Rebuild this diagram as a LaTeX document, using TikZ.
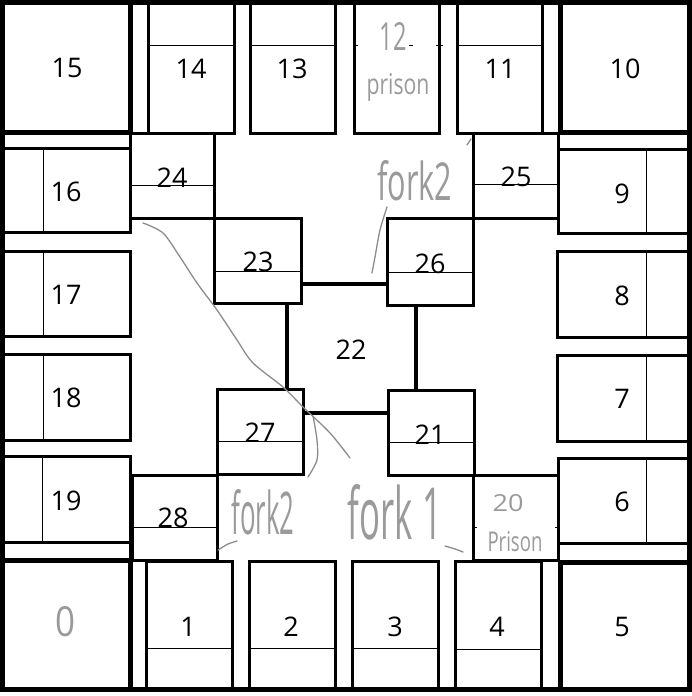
\documentclass[tikz,border=0pt]{standalone}
\usepackage{fontspec}
\setmainfont{Open Sans}
\definecolor{hgray}{HTML}{8C8C8C}
\definecolor{tgray}{HTML}{9A9A9A}
\begin{document}
\begin{tikzpicture}[x=1pt,y=-1pt,
  cell/.style={draw=black, fill=white, line width=3pt},
  corner/.style={draw=black, fill=white, line width=5pt},
  frame/.style={draw=black, line width=5pt},
  centre/.style={draw=black, line width=4.5pt},
  thin/.style={draw=black, line width=1pt},
  num/.style={inner sep=0pt, font=\fontsize{27}{30}\selectfont},
  hand/.style={inner sep=0pt, text=tgray},
  stroke/.style={draw=hgray, line width=1.3pt, line cap=round, line join=round}]
\useasboundingbox (0,0) rectangle (692,696);
% centre square 22
\draw[centre] (287,284) rectangle (416,413);
% top row
\draw[cell] (148,2.5) rectangle (234,133);
\draw[cell] (250,2.5) rectangle (335,133);
\draw[cell] (354,2.5) rectangle (439,133);
\draw[cell] (457,2.5) rectangle (542,133);
\draw[cell] (131,133) -- (148,133);
\draw[cell] (542,133) -- (560,133);
% left column
\draw[cell] (2.5,148) rectangle (130,232);
\draw[cell] (2.5,251) rectangle (130,336);
\draw[cell] (2.5,354) rectangle (130,440);
\draw[cell] (2.5,456) rectangle (130,542);
\draw[cell] (130,132) -- (130,148);
\draw[cell] (130,542) -- (130,560);
% right column
\draw[cell] (558,149) rectangle (689,233);
\draw[cell] (557,251) rectangle (689,337);
\draw[cell] (557,355) rectangle (689,441);
\draw[cell] (558,458) rectangle (689,543);
\draw[cell] (558,132) -- (558,149);
\draw[cell] (558,543) -- (558,562);
% bottom row
\draw[cell] (146,561) rectangle (232,689.5);
\draw[cell] (249,561) rectangle (335,689.5);
\draw[cell] (352,561) rectangle (438,689.5);
\draw[cell] (455,561) rectangle (541,689.5);
% inner ring
\draw[cell] (130,133) rectangle (214,218);
\draw[cell] (473,133) rectangle (558,218);
\draw[cell] (214,218) rectangle (301,303);
\draw[cell] (387,218) rectangle (473,305);
\draw[cell] (217,389) rectangle (303,474);
\draw[cell] (388,390) rectangle (474,475);
\draw[cell] (132,475) rectangle (217,560);
\draw[cell] (473,475) rectangle (558,560);
% corners
\draw[corner] (2.5,2.5) rectangle (130.5,132);
\draw[corner] (560,2.5) rectangle (689,132);
\draw[corner] (2.5,560) rectangle (130.5,689.5);
\draw[corner] (560,562) rectangle (689,689.5);
% outer frame
\draw[frame] (2.5,2.5) rectangle (689,689.5);
% thin dividers
\draw[thin] (148,45) -- (234,45);
\draw[thin] (250,45) -- (335,45);
\draw[thin] (457,45) -- (542,45);
\draw[thin] (354,45) -- (358,45);
\draw[thin] (409,45) -- (413,45);
\draw[thin] (436,45) -- (443,45);
\draw[thin] (43,148) -- (43,232);
\draw[thin] (43,251) -- (43,336);
\draw[thin] (43,354) -- (43,440);
\draw[thin] (42,456) -- (42,542);
\draw[thin] (646,149) -- (646,233);
\draw[thin] (646,251) -- (646,337);
\draw[thin] (646,355) -- (646,441);
\draw[thin] (646,458) -- (646,543);
\draw[thin] (146,648) -- (232,648);
\draw[thin] (249,648) -- (335,648);
\draw[thin] (352,648) -- (438,648);
\draw[thin] (455,649) -- (541,649);
\draw[thin] (130,185) -- (214,185);
\draw[thin] (473,184) -- (558,184);
\draw[thin] (214,271) -- (301,271);
\draw[thin] (387,272) -- (473,272);
\draw[thin] (217,441) -- (303,441);
\draw[thin] (388,442) -- (474,442);
\draw[thin] (132,527) -- (217,527);
\draw[thin] (473,527) -- (477,527);
\draw[thin] (555,527) -- (558,527);
% printed numbers
\node[num] (n15) at (67,68) {15};
\node[num] (n14) at (191,69) {14};
\node[num] (n13) at (292,69) {13};
\node[num] (n11) at (500,69) {11};
\node[num] (n10) at (625,69) {10};
\node[num] (n16) at (66,192) {16};
\node[num] (n17) at (66,295) {17};
\node[num] (n18) at (66,398) {18};
\node[num] (n19) at (66,501) {19};
\node[num] (n9) at (622,194) {9};
\node[num] (n8) at (622,296) {8};
\node[num] (n7) at (622,399) {7};
\node[num] (n6) at (622,502) {6};
\node[num] (n1) at (188,627) {1};
\node[num] (n2) at (291,627) {2};
\node[num] (n3) at (395,627) {3};
\node[num] (n4) at (497,627) {4};
\node[num] (n5) at (622,627) {5};
\node[num] (n24) at (172,178) {24};
\node[num] (n25) at (516,177) {25};
\node[num] (n23) at (258,262) {23};
\node[num] (n26) at (430,264) {26};
\node[num] (n22) at (351,350) {22};
\node[num] (n27) at (260,433) {27};
\node[num] (n21) at (430,435) {21};
\node[num] (n28) at (173,518) {28};
% handwritten labels
\node[hand] (h0) at (66,622) {\resizebox{20pt}{30pt}{0}};
\node[hand] (h12) at (393,36) {\resizebox{27pt}{28pt}{12}};
\node[hand] (hp12) at (398,87) {\resizebox{63pt}{21pt}{prison}};
\node[hand] (h20) at (508,503) {\resizebox{31pt}{17pt}{20}};
\node[hand] (hp20) at (515,542) {\resizebox{55pt}{20pt}{Prison}};
\node[hand] (hf2a) at (415,181) {\resizebox{75pt}{40pt}{fork2}};
\node[hand] (hf2b) at (263,512) {\resizebox{63pt}{45pt}{fork2}};
\node[hand] (hf1) at (395,512) {\resizebox{94pt}{55pt}{fork 1}};
% handwritten strokes
\draw[stroke] plot[smooth] coordinates {(143,223) (163,233) (180,257) (197,283) (217,310) (237,340) (253,363) (283,387) (303,407) (330,433) (350,458)};
\draw[stroke] plot[smooth] coordinates {(313,416) (317,440) (317,460) (308,477)};
\draw[stroke] plot[smooth] coordinates {(387,207) (380,230) (375,257) (372,273)};
\draw[stroke] (467,145) -- (471,139);
\draw[stroke] plot[smooth] coordinates {(218,550) (228,544) (237,541)};
\draw[stroke] plot[smooth] coordinates {(445,546) (455,549) (463,552)};
\end{tikzpicture}
\end{document}
